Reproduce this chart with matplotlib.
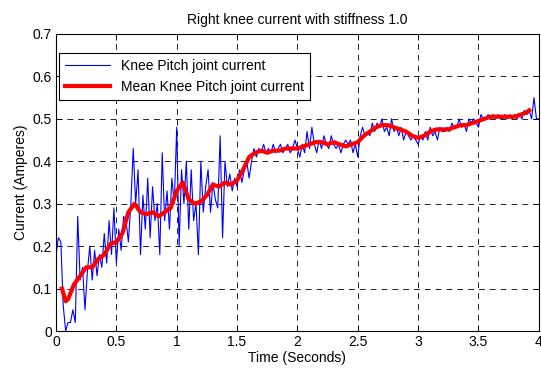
import matplotlib
matplotlib.use("Agg")
import matplotlib.pyplot as plt
import numpy as np

plt.rcParams['font.family'] = ['Liberation Sans', 'DejaVu Sans']

# raw knee pitch joint current, sampled every 0.02 s from t = 0
dt = 0.02
current = [
    0.18, 0.22, 0.21, 0.06, 0.00, 0.02, 0.02, 0.05, 0.02, 0.27,
    0.12, 0.15, 0.05, 0.14, 0.20, 0.12, 0.19, 0.13, 0.18, 0.15,
    0.23, 0.16, 0.26, 0.18, 0.29, 0.16, 0.24, 0.19, 0.27, 0.26,
    0.21, 0.30, 0.43, 0.30, 0.38, 0.18, 0.32, 0.24, 0.36, 0.22,
    0.34, 0.26, 0.30, 0.18, 0.42, 0.26, 0.33, 0.24, 0.36, 0.30,
    0.48, 0.20, 0.38, 0.30, 0.40, 0.24, 0.38, 0.26, 0.30, 0.18,
    0.40, 0.28, 0.34, 0.38, 0.28, 0.35, 0.31, 0.29, 0.46, 0.22,
    0.40, 0.34, 0.37, 0.33, 0.36, 0.34, 0.38, 0.35, 0.38, 0.40,
    0.36, 0.40, 0.43, 0.41, 0.43, 0.42, 0.44, 0.42, 0.43, 0.42,
    0.44, 0.42, 0.43, 0.44, 0.42, 0.43, 0.44, 0.42, 0.43, 0.45,
    0.43, 0.41, 0.44, 0.42, 0.47, 0.43, 0.48, 0.44, 0.42, 0.45,
    0.43, 0.46, 0.44, 0.43, 0.46, 0.44, 0.43, 0.44, 0.42, 0.44,
    0.45, 0.44, 0.45, 0.42, 0.44, 0.41, 0.46, 0.48, 0.46, 0.47,
    0.46, 0.49, 0.47, 0.49, 0.48, 0.50, 0.47, 0.48, 0.46, 0.50,
    0.47, 0.48, 0.46, 0.48, 0.45, 0.47, 0.46, 0.45, 0.46, 0.45,
    0.44, 0.46, 0.45, 0.47, 0.45, 0.48, 0.46, 0.47, 0.45, 0.48,
    0.47, 0.47, 0.48, 0.47, 0.49, 0.48, 0.48, 0.50, 0.48, 0.49,
    0.47, 0.50, 0.49, 0.50, 0.49, 0.48, 0.51, 0.50, 0.50, 0.51,
    0.50, 0.51, 0.50, 0.51, 0.50, 0.50, 0.51, 0.50, 0.51, 0.50,
    0.51, 0.50, 0.51, 0.50, 0.52, 0.51, 0.52, 0.50, 0.55, 0.50,
    0.50,
]
time = np.arange(len(current)) * dt

# mean (smoothed) current
mean_time = [
    0.05, 0.08, 0.10, 0.15, 0.20, 0.25, 0.30, 0.35, 0.40, 0.45,
    0.50, 0.55, 0.60, 0.65, 0.70, 0.75, 0.80, 0.85, 0.90, 0.95,
    1.00, 1.05, 1.10, 1.15, 1.20, 1.25, 1.30, 1.35, 1.40, 1.45,
    1.50, 1.55, 1.60, 1.65, 1.70, 1.75, 1.80, 1.85, 1.90, 1.95,
    2.00, 2.05, 2.10, 2.15, 2.20, 2.25, 2.30, 2.35, 2.40, 2.45,
    2.50, 2.55, 2.60, 2.65, 2.70, 2.75, 2.80, 2.85, 2.90, 2.95,
    3.00, 3.05, 3.10, 3.15, 3.20, 3.25, 3.30, 3.35, 3.40, 3.45,
    3.50, 3.55, 3.60, 3.65, 3.70, 3.75, 3.80, 3.85, 3.90, 3.92,
]
mean_current = [
    0.100, 0.070, 0.075, 0.110, 0.130, 0.150, 0.150, 0.170, 0.180, 0.205,
    0.210, 0.230, 0.280, 0.300, 0.280, 0.275, 0.280, 0.270, 0.280, 0.290,
    0.330, 0.350, 0.310, 0.300, 0.305, 0.320, 0.345, 0.340, 0.350, 0.345,
    0.355, 0.380, 0.410, 0.420, 0.425, 0.420, 0.425, 0.425, 0.430, 0.430,
    0.430, 0.435, 0.440, 0.445, 0.445, 0.440, 0.445, 0.440, 0.435, 0.440,
    0.445, 0.460, 0.470, 0.480, 0.485, 0.485, 0.480, 0.475, 0.470, 0.460,
    0.455, 0.460, 0.470, 0.475, 0.475, 0.475, 0.480, 0.485, 0.485, 0.490,
    0.495, 0.500, 0.505, 0.505, 0.505, 0.505, 0.505, 0.510, 0.515, 0.520,
]

fig = plt.figure(figsize=(5.41, 3.73), dpi=100)
ax = fig.add_axes([0.1035, 0.1126, 0.8925, 0.7964])

ax.plot(time, current, color='blue', linewidth=0.8, label='Knee Pitch joint current')
ax.plot(mean_time, mean_current, color='red', linewidth=3.0,
        label='Mean Knee Pitch joint current')

ax.set_xlim(0, 4)
ax.set_ylim(0, 0.7)
ax.set_xticks(np.arange(0, 4.01, 0.5))
ax.set_xticklabels(['0', '0.5', '1', '1.5', '2', '2.5', '3', '3.5', '4'])
ax.set_yticks(np.arange(0, 0.71, 0.1))
ax.set_yticklabels(['0', '0.1', '0.2', '0.3', '0.4', '0.5', '0.6', '0.7'])

ax.grid(True, color='black', linestyle=(0, (7, 6)), linewidth=0.6)
ax.tick_params(direction='in', top=True, right=True, length=4, width=0.6,
               labelsize=10, pad=3)
for s in ax.spines.values():
    s.set_linewidth(0.8)

ax.set_title('Right knee current with stiffness 1.0', fontsize=10, pad=7)
ax.set_xlabel('Time (Seconds)', fontsize=10, labelpad=1)
ax.set_ylabel('Current (Amperes)', fontsize=10, labelpad=3)

leg = ax.legend(loc='upper left', bbox_to_anchor=(0.006, 0.936), borderaxespad=0,
                fontsize=10, fancybox=False, framealpha=1, edgecolor='black',
                handlelength=3.2, labelspacing=0.5, borderpad=0.45)
leg.get_frame().set_linewidth(0.8)

fig.savefig('out.png', dpi=100)
